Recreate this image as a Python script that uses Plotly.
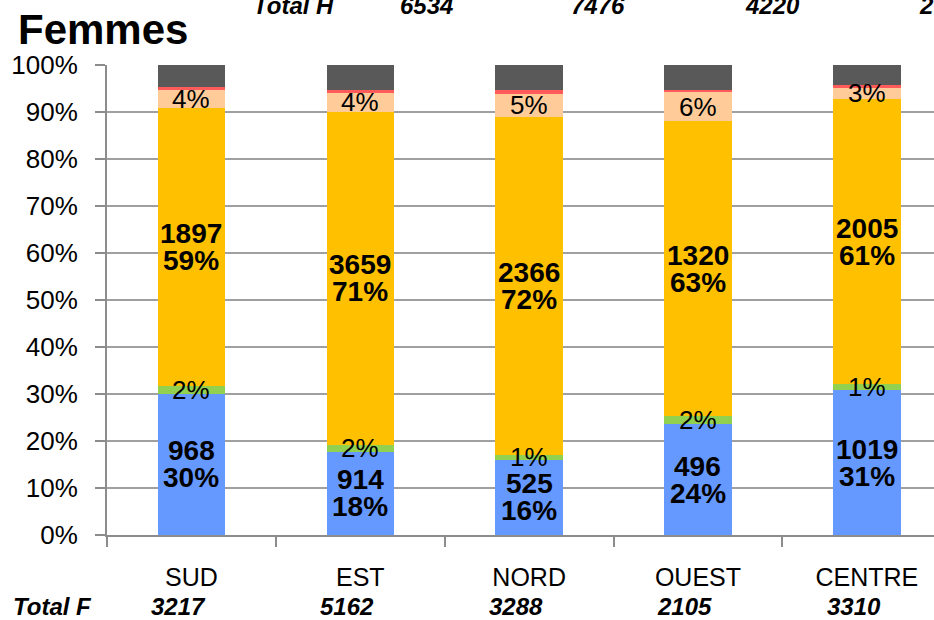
import plotly.graph_objects as go

# ---- data ----
categories = ["SUD", "EST", "NORD", "OUEST", "CENTRE"]
total_f = [3217, 5162, 3288, 2105, 3310]
total_h = ["6534", "7476", "4220", "2750"]  # last value is cut off in the reference
count_blue = [968, 914, 525, 496, 1019]
count_orange = [1897, 3659, 2366, 1320, 2005]
pct_blue = [30.1, 17.7, 16.0, 23.6, 30.8]
pct_green = [1.7, 1.5, 1.0, 1.7, 1.3]
pct_orange = [59.0, 70.9, 72.0, 62.7, 60.6]
pct_peach = [3.8, 4.1, 4.8, 6.2, 2.6]
pct_red = [0.7, 0.4, 0.85, 0.5, 0.4]
pct_grey = [4.7, 5.4, 5.35, 5.3, 4.3]

# ---- style ----
W, H = 934, 620
ML, MR, MT, MB = 107, 0, 64.5, 84.5
PLOT_W = W - ML - MR
PLOT_H = H - MT - MB
FONT = "Liberation Sans, Arial, sans-serif"
GRID = "#A0A0A0"
AXIS = "#8C8C8C"

series = [
    (pct_blue, "#6699FF"),
    (pct_green, "#92D050"),
    (pct_orange, "#FFC000"),
    (pct_peach, "#FFCC99"),
    (pct_red, "#FF5B5B"),
    (pct_grey, "#595959"),
]

fig = go.Figure()
for vals, col in series:
    fig.add_trace(go.Bar(
        x=categories, y=[v / 100 for v in vals],
        marker=dict(color=col, line=dict(width=0)),
        width=0.4, hoverinfo="skip", showlegend=False,
    ))


def px_x(px):
    return (px - ML) / PLOT_W


def px_y(py):
    return (MT + PLOT_H - py) / PLOT_H


BOLD = dict(family=FONT, size=28, color="black", weight="bold")
REG = dict(family=FONT, size=26, color="black")
ROW = dict(family=FONT, size=24, color="black", weight="bold")


def ann(**kw):
    base = dict(showarrow=False, xanchor="center", yanchor="middle")
    base.update(kw)
    return base


annotations = []
for i, cat in enumerate(categories):
    b = pct_blue[i] / 100
    g = pct_green[i] / 100
    o = pct_orange[i] / 100
    p = pct_peach[i] / 100
    mid = b / 2
    annotations.append(ann(x=cat, y=mid, xref="x", yref="y", text=str(count_blue[i]), yshift=13.5, font=BOLD))
    annotations.append(ann(x=cat, y=mid, xref="x", yref="y", text=f"{round(pct_blue[i])}%", yshift=-13.5, font=BOLD))
    annotations.append(ann(x=cat, y=b + g / 2, xref="x", yref="y", text=f"{round(pct_green[i])}%", font=REG))
    mid = b + g + o / 2
    annotations.append(ann(x=cat, y=mid, xref="x", yref="y", text=str(count_orange[i]), yshift=13.5, font=BOLD))
    annotations.append(ann(x=cat, y=mid, xref="x", yref="y", text=f"{round(pct_orange[i])}%", yshift=-13.5, font=BOLD))
    annotations.append(ann(x=cat, y=b + g + o + p / 2, xref="x", yref="y", text=f"{round(pct_peach[i])}%", font=REG))
    annotations.append(ann(x=cat, y=px_y(607), xref="x", yref="paper",
                           text=f"<i>{total_f[i]}</i>", xshift=-13, font=ROW))

annotations.append(ann(x=px_x(52), y=px_y(607), xref="paper", yref="paper", text="<i>Total F</i>", font=ROW))
top_x = [426, 598, 772, 946]
annotations.append(ann(x=px_x(293), y=px_y(5), xref="paper", yref="paper", text="<i>Total H</i>", font=ROW))
for t, xx in zip(total_h, top_x):
    annotations.append(ann(x=px_x(xx), y=px_y(5), xref="paper", yref="paper", text=f"<i>{t}</i>", font=ROW))
annotations.append(ann(x=px_x(16), y=px_y(29), xref="paper", yref="paper", text="<b>Femmes</b>",
                       xanchor="left", font=dict(family=FONT, size=42, color="black")))

fig.update_layout(
    width=W, height=H,
    margin=dict(l=ML, r=MR, t=MT, b=MB, pad=0),
    barmode="stack",
    plot_bgcolor="white", paper_bgcolor="white",
    annotations=annotations,
    showlegend=False,
    xaxis=dict(
        type="category", range=[-0.5, -0.5 + PLOT_W / 168.85],
        showgrid=False, zeroline=False,
        showline=True, linecolor=AXIS, linewidth=2,
        ticks="outside", tickson="boundaries", ticklen=10, tickwidth=2, tickcolor=AXIS,
        tickfont=dict(family=FONT, size=25, color="black"),
        ticklabelstandoff=19,
    ),
    yaxis=dict(
        range=[0, 1], dtick=0.1, tickformat=".0%",
        showgrid=True, gridcolor=GRID, gridwidth=2, zeroline=False,
        showline=True, linecolor=AXIS, linewidth=2,
        ticks="outside", ticklen=10, tickwidth=2, tickcolor=AXIS,
        tickfont=dict(family=FONT, size=26, color="black"),
        ticklabelstandoff=12,
    ),
)

fig.write_html(
    "out.html",
    config={"displayModeBar": False},
    post_script="document.body.style.margin='0';document.body.style.overflow='hidden';",
)
